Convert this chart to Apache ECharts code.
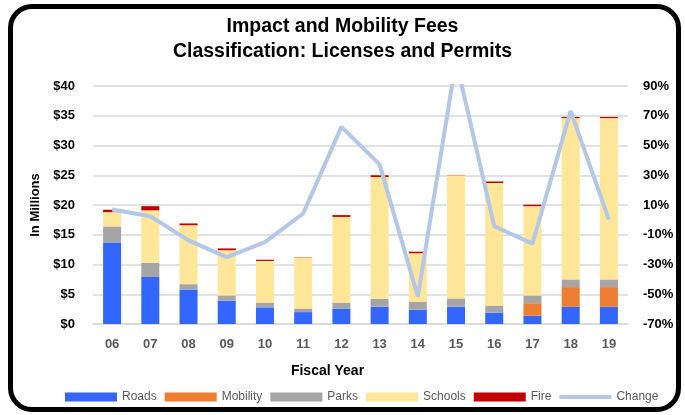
<!DOCTYPE html>
<html>
<head>
<meta charset="utf-8">
<script src="https://cdn.jsdelivr.net/npm/echarts@6/dist/echarts.min.js"></script>
<style>
  html, body { margin: 0; padding: 0; background: #fff; }
  #chart { width: 685px; height: 415px; }
  #frame {
    position: absolute; left: 8px; top: 4px; width: 673px; height: 408px;
    box-sizing: border-box; border: 5px solid #000; border-radius: 24px;
    pointer-events: none;
  }
</style>
</head>
<body>
<div id="chart"></div>
<div id="frame"></div>
<script>
// fiscal years (x axis)
const years = ["06", "07", "08", "09", "10", "11", "12", "13", "14", "15", "16", "17", "18", "19"];

// fees in $ millions
const roads    = [13.7, 7.9, 5.8, 3.9, 2.8, 2.0, 2.6, 2.9, 2.4, 2.9, 1.9, 1.4, 2.9, 2.9];
const mobility = [0, 0, 0, 0, 0, 0, 0, 0, 0, 0, 0, 2.1, 3.3, 3.3];
const parks    = [2.7, 2.4, 0.9, 0.9, 0.8, 0.6, 1.0, 1.3, 1.3, 1.4, 1.2, 1.3, 1.3, 1.3];
const schools  = [2.4, 8.8, 9.9, 7.6, 7.0, 8.6, 14.4, 20.5, 8.2, 20.7, 20.6, 15.0, 27.1, 27.1];
const fire     = [0.4, 0.7, 0.3, 0.3, 0.2, 0.05, 0.3, 0.3, 0.25, 0.05, 0.25, 0.25, 0.2, 0.2];

// year-over-year change, % (right axis); FY15 runs off the top
const change = [7, 2.4, -13.8, -25, -14.9, 4.3, 62.5, 37.3, -51.6, 107, -4.3, -16, 73.3, 0.2];

const FONT = "'Liberation Sans', Arial, sans-serif";
const GRID = "#d9d9d9";

const barSeries = (name, data, color) => ({
  name,
  type: "bar",
  stack: "fees",
  data,
  barWidth: 18,
  itemStyle: { color },
  emphasis: { disabled: true },
  animation: false,
});

const chart = echarts.init(document.getElementById("chart"));
chart.setOption({
  animation: false,
  textStyle: { fontFamily: FONT },
  title: {
    text: "Impact and Mobility Fees\nClassification: Licenses and Permits",
    left: "center",
    top: 9,
    textStyle: { fontFamily: FONT, fontSize: 19.5, fontWeight: "bold", color: "#000", lineHeight: 25 },
  },
  legend: {
    left: 60,
    top: 386,
    itemWidth: 52,
    itemHeight: 9,
    itemGap: 8,
    textStyle: { fontFamily: FONT, fontSize: 12, color: "#595959" },
    data: [
      { name: "Roads", icon: "rect" },
      { name: "Mobility", icon: "rect" },
      { name: "Parks", icon: "rect" },
      { name: "Schools", icon: "rect" },
      { name: "Fire", icon: "rect" },
      // thin bar inside a 52x9 box, the M points only set the box size
      { name: "Change", icon: "path://M0,0 M52,9 M0,2.5 H52 V6.5 H0 Z" },
    ],
  },
  grid: { left: 93, right: 57, top: 86, bottom: 91 },
  xAxis: {
    type: "category",
    data: years,
    name: "Fiscal Year",
    nameLocation: "middle",
    nameGap: 40,
    nameTextStyle: { fontFamily: FONT, fontSize: 14, fontWeight: "bold", color: "#000", padding: [0, 66, 0, 0] },
    axisLine: { lineStyle: { color: GRID, width: 1.5 } },
    axisTick: { show: false },
    axisLabel: { fontFamily: FONT, fontSize: 13, fontWeight: "bold", color: "#595959", margin: 14 },
  },
  yAxis: [
    {
      type: "value",
      min: 0,
      max: 40,
      interval: 5,
      name: "In Millions",
      nameLocation: "middle",
      nameGap: 50,
      nameTextStyle: { fontFamily: FONT, fontSize: 13, fontWeight: "bold", color: "#000" },
      axisLabel: { fontFamily: FONT, fontSize: 13, fontWeight: "bold", color: "#000", margin: 18, formatter: "${value}" },
      splitLine: { lineStyle: { color: GRID, width: 1.5 } },
      axisLine: { show: false },
      axisTick: { show: false },
    },
    {
      type: "value",
      min: -70,
      max: 90,
      interval: 20,
      axisLabel: { fontFamily: FONT, fontSize: 13, fontWeight: "bold", color: "#000", margin: 15, formatter: "{value}%" },
      splitLine: { show: false },
      axisLine: { show: false },
      axisTick: { show: false },
    },
  ],
  series: [
    barSeries("Roads", roads, "#3366ff"),
    barSeries("Mobility", mobility, "#ed7d31"),
    barSeries("Parks", parks, "#a5a5a5"),
    barSeries("Schools", schools, "#ffe699"),
    barSeries("Fire", fire, "#c00000"),
    {
      name: "Change",
      type: "line",
      yAxisIndex: 1,
      data: change,
      symbol: "none",
      clip: true,
      lineStyle: { color: "#b4c7e7", width: 4 },
      itemStyle: { color: "#b4c7e7" },
      emphasis: { disabled: true },
      animation: false,
      z: 5,
    },
  ],
});
</script>
</body>
</html>
